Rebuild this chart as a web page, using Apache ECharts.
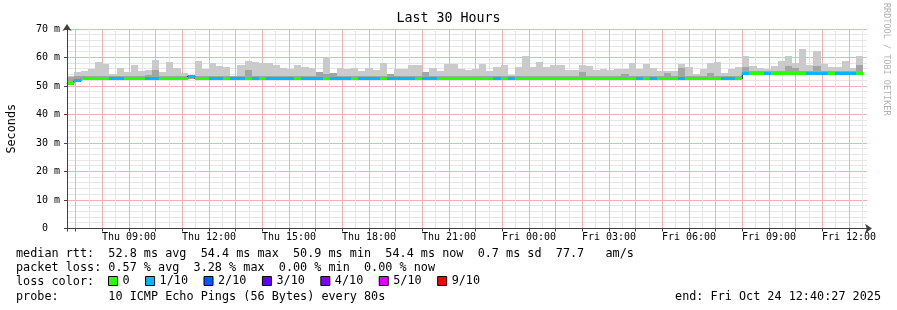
<!DOCTYPE html>
<html><head><meta charset="utf-8">
<script src="https://cdn.jsdelivr.net/npm/echarts@6/dist/echarts.min.js"></script>
<style>html,body{margin:0;padding:0;background:#fff}#c{width:897px;height:310px}</style>
</head><body><div id="c"></div>
<script>
// ---- data ----
const dayNames = ['Thu', 'Fri'];              // day 0 = Thu Oct 23, day 1 = Fri Oct 24
const viewStartHour = 6 + 40 / 60 + 27 / 3600; // Thu 06:40:27
const viewSpanHours = 30;
const firstBarHour = 6 + 40 / 60;              // first bar starts Thu 06:40
const barStepHours = 16 / 60;                  // 16 minute steps

const lossLabels = ['0', '1/10', '2/10', '3/10', '4/10', '5/10', '9/10'];
const lossCounts = [0, 1, 2, 3, 4, 5, 9];
const lossColors = ['#26ff00', '#00b8ff', '#0059ff', '#5e00ff', '#7e00ff', '#dd00ff', '#ff0000'];

// median rtt per bar (ms)
const medianMs = [
  50.9, 51.8, 52.6, 52.6, 52.6, 52.6, 52.6, 52.6, 52.6, 52.6,
  52.6, 52.6, 52.6, 52.6, 52.6, 52.6, 52.6, 53.5, 52.6, 52.6,
  52.6, 52.6, 52.6, 52.6, 52.6, 52.6, 52.6, 52.6, 52.6, 52.6,
  52.6, 52.6, 52.6, 52.6, 52.6, 52.6, 52.6, 52.6, 52.6, 52.6,
  52.6, 52.6, 52.6, 52.6, 52.6, 52.6, 52.6, 52.6, 52.6, 52.6,
  52.6, 52.6, 52.6, 52.6, 52.6, 52.6, 52.6, 52.6, 52.6, 52.6,
  52.6, 52.6, 52.6, 52.6, 52.6, 52.6, 52.6, 52.6, 52.6, 52.6,
  52.6, 52.6, 52.6, 52.6, 52.6, 52.6, 52.6, 52.6, 52.6, 52.6,
  52.6, 52.6, 52.6, 52.6, 52.6, 52.6, 52.6, 52.6, 52.6, 52.6,
  52.6, 52.6, 52.6, 52.6, 52.6, 54.4, 54.4, 54.4, 54.4, 54.4,
  54.4, 54.4, 54.4, 54.4, 54.4, 54.4, 54.4, 54.4, 54.4, 54.4,
  54.4, 54.4
];
// lost pings out of 10 per bar
const lostPings = [
  0, 1, 0, 0, 0, 0, 1, 1, 0, 0,
  0, 1, 1, 0, 0, 0, 0, 1, 0, 0,
  1, 1, 0, 1, 1, 0, 1, 0, 1, 1,
  1, 1, 0, 1, 1, 1, 0, 1, 1, 1,
  0, 1, 1, 1, 0, 1, 1, 1, 1, 0,
  1, 1, 0, 0, 0, 0, 0, 0, 0, 0,
  1, 0, 1, 0, 0, 0, 0, 0, 0, 0,
  0, 0, 0, 0, 0, 0, 0, 0, 0, 0,
  1, 0, 1, 0, 0, 0, 1, 0, 0, 0,
  0, 0, 1, 1, 0, 1, 0, 0, 1, 0,
  0, 0, 0, 0, 1, 1, 1, 0, 1, 1,
  1, 0
];
// smoke: lowest ping, highest ping, inner (2nd highest) ping
const smokeMin = [
  51.2, 51.5, 52.2, 52.2, 52.2, 52.2, 52.2, 52.2, 52.2, 52.2,
  52.2, 52.2, 52.2, 52.2, 52.2, 52.2, 52.2, 52.6, 52.2, 52.2,
  52.2, 52.2, 52.2, 52.2, 52.2, 52.2, 52.2, 52.2, 52.2, 52.2,
  52.2, 52.2, 52.2, 52.2, 52.2, 52.2, 52.2, 52.2, 52.2, 52.2,
  52.2, 52.2, 52.2, 52.2, 52.2, 52.2, 52.2, 52.2, 52.2, 52.2,
  52.2, 52.2, 52.2, 52.2, 52.2, 52.2, 52.2, 52.2, 52.2, 52.2,
  52.2, 52.2, 52.2, 52.2, 52.2, 52.2, 52.2, 52.2, 52.2, 52.2,
  52.2, 52.2, 52.2, 52.2, 52.2, 52.2, 52.2, 52.2, 52.2, 52.2,
  52.2, 52.2, 52.2, 52.2, 52.2, 52.2, 52.2, 52.2, 52.2, 52.2,
  52.2, 52.2, 52.2, 52.2, 52.2, 54.0, 54.0, 54.0, 54.0, 54.0,
  54.0, 54.0, 54.0, 54.0, 54.0, 54.0, 54.0, 54.0, 54.0, 54.0,
  54.0, 54.0
];
const smokeMax = [
  53.6, 54.8, 55.1, 55.9, 58.3, 57.7, 54.1, 56.2, 54.8, 57.3,
  55.1, 55.5, 59.0, 54.8, 58.3, 56.2, 54.6, 54.0, 58.8, 56.0,
  58.0, 57.1, 56.7, 53.6, 57.5, 58.9, 58.3, 58.0, 57.9, 57.2,
  56.2, 55.8, 57.2, 56.7, 56.2, 55.0, 60.0, 54.7, 56.4, 56.1,
  56.2, 55.1, 56.2, 55.5, 58.1, 54.3, 56.1, 56.1, 57.2, 57.2,
  54.8, 56.3, 55.1, 57.6, 57.6, 55.9, 55.5, 55.9, 57.6, 55.1,
  56.6, 57.2, 53.9, 56.5, 60.7, 56.5, 58.3, 56.5, 57.3, 57.5,
  55.6, 55.7, 57.3, 56.9, 55.6, 56.1, 55.5, 56.1, 56.1, 57.9,
  55.8, 57.7, 56.4, 55.4, 55.2, 55.4, 57.7, 56.6, 54.3, 56.0,
  57.9, 58.3, 54.6, 56.0, 56.5, 60.4, 57.0, 56.4, 56.0, 57.0,
  58.6, 60.4, 58.0, 62.9, 57.3, 62.2, 57.6, 56.6, 56.6, 58.6,
  56.4, 60.4
];
const smokeInner = [
  53.0, 53.5, 53.5, 53.5, 53.5, 53.5, 53.5, 53.5, 53.5, 53.5,
  53.5, 54.0, 55.5, 53.5, 53.5, 53.5, 53.5, 53.9, 53.5, 53.5,
  53.5, 53.5, 53.5, 53.5, 53.5, 55.5, 53.5, 53.5, 53.5, 53.5,
  53.5, 53.5, 53.5, 53.5, 53.5, 55.0, 54.2, 54.7, 53.5, 53.5,
  53.5, 53.5, 53.5, 53.5, 53.5, 54.3, 53.5, 53.5, 53.5, 53.5,
  54.8, 53.5, 53.5, 53.5, 53.5, 53.5, 53.5, 53.5, 53.5, 53.5,
  53.5, 53.5, 53.5, 53.5, 53.5, 53.5, 53.5, 53.5, 53.5, 53.5,
  53.5, 53.5, 54.8, 53.5, 53.5, 53.5, 53.5, 53.5, 54.2, 53.5,
  53.5, 53.5, 53.5, 53.5, 54.7, 53.5, 56.4, 53.5, 53.5, 53.5,
  54.7, 53.5, 53.5, 53.5, 53.5, 56.6, 55.2, 55.2, 55.2, 55.2,
  55.2, 57.0, 56.2, 55.2, 55.2, 57.0, 55.2, 55.2, 55.2, 55.2,
  55.2, 57.5
];

const titleText = 'Last 30 Hours';
const yName = 'Seconds';
const statLines = [
  'median rtt:  52.8 ms avg  54.4 ms max  50.9 ms min  54.4 ms now  0.7 ms sd  77.7   am/s',
  'packet loss: 0.57 % avg  3.28 % max  0.00 % min  0.00 % now',
  'loss color:',
  'probe:       10 ICMP Echo Pings (56 Bytes) every 80s'
];
const endText = 'end: Fri Oct 24 12:40:27 2025';
const creditText = 'RRDTOOL / TOBI OETIKER';

// ---- build ----
const MONO = '"DejaVu Sans Mono", monospace';
const MAJOR = '#f4b0b0';
const MINOR = '#e6e6e6';
const viewEndHour = viewStartHour + viewSpanHours;
const bars = medianMs.map((m, i) => {
  const t0 = firstBarHour + i * barStepHours;
  return { t0: t0, t1: t0 + barStepHours, m: m, loss: lostPings[i],
           lo: smokeMin[i], hi: smokeMax[i], inner: smokeInner[i] };
});

// grid positions: every half hour (major on the hour), every 2 ms (major every 10 ms)
const vGrid = [];
for (let h = Math.ceil(viewStartHour * 2) / 2; h < viewEndHour; h += 0.5) vGrid.push([h, h % 1 === 0 ? 1 : 0]);
const hGrid = [];
for (let v = 2; v <= 70; v += 2) hGrid.push([v, v % 10 === 0 ? 1 : 0]);

function clipBox(params) {
  const cs = params.coordSys;
  return { x: cs.x, y: cs.y, width: cs.width, height: cs.height };
}
function snapRect(api, params, t0, t1, a, b) {
  const p0 = api.coord([t0, b]);
  const p1 = api.coord([t1, a]);
  const x0 = Math.round(p0[0]), x1 = Math.round(p1[0]);
  const y0 = Math.round(p0[1]), y1 = Math.round(p1[1]);
  return echarts.graphic.clipRectByRect({ x: x0, y: y0, width: x1 - x0, height: y1 - y0 }, clipBox(params));
}
function smokeRender(params, api) {
  const t0 = api.value(0), t1 = api.value(1);
  const lo = api.value(2), hi = api.value(3), inner = api.value(4);
  const kids = [];
  const r1 = snapRect(api, params, t0, t1, lo, hi);
  if (r1) kids.push({ type: 'rect', shape: r1, style: { fill: '#cacaca' } });
  const r2 = snapRect(api, params, t0, t1, lo, inner);
  if (r2) kids.push({ type: 'rect', shape: r2, style: { fill: '#a4a4a4' } });
  return { type: 'group', children: kids };
}
function bandRender(color) {
  return function (params, api) {
    const t0 = api.value(0), t1 = api.value(1), m = api.value(2);
    const p0 = api.coord([t0, m]), p1 = api.coord([t1, m]);
    const x0 = Math.round(p0[0]), x1 = Math.round(p1[0]);
    const yc = Math.round(p0[1] - 1.5);
    const r = echarts.graphic.clipRectByRect({ x: x0, y: yc, width: x1 - x0, height: 3 }, clipBox(params));
    if (!r) return null;
    return { type: 'rect', shape: r, style: { fill: color } };
  };
}
function gridRect(params, api, vertical, value, major) {
  const cs = params.coordSys;
  if (vertical) {
    const x = Math.floor(api.coord([value, 0])[0]);
    return { type: 'rect', silent: true, shape: { x: x, y: cs.y, width: 1, height: cs.height },
             style: { fill: major ? MAJOR : MINOR } };
  }
  const y = Math.floor(api.coord([viewStartHour, value])[1]);
  return { type: 'rect', silent: true, shape: { x: cs.x, y: y, width: cs.width, height: 1 },
           style: { fill: major ? MAJOR : MINOR } };
}
function vGridRender(params, api) { return gridRect(params, api, true, api.value(0), api.value(1) === 1); }
function hGridRender(params, api) { return gridRect(params, api, false, api.value(0), api.value(1) === 1); }

const series = [];
series.push({ type: 'custom', name: 'hgrid', z: 1, silent: true, renderItem: hGridRender,
              encode: { y: 0 }, data: hGrid.filter(g => !g[1]).concat(hGrid.filter(g => g[1])) });
series.push({ type: 'custom', name: 'vgrid', z: 2, silent: true, renderItem: vGridRender,
              encode: { x: 0 }, data: vGrid.filter(g => !g[1]).concat(vGrid.filter(g => g[1])) });
series.push({
  type: 'custom', name: 'smoke', z: 5, renderItem: smokeRender,
  encode: { x: [0, 1], y: [2, 3, 4] },
  data: bars.map(b => [b.t0, b.t1, b.lo, b.hi, b.inner])
});
const stepData = bars.map(b => [b.t0, b.m]);
stepData.push([bars[bars.length - 1].t1, bars[bars.length - 1].m]);
series.push({
  type: 'line', name: 'medianline', z: 6, step: 'end', showSymbol: false, symbol: 'none',
  lineStyle: { color: '#202020', width: 1 }, data: stepData, silent: true
});
lossLabels.forEach((lab, k) => {
  series.push({
    type: 'custom', name: lab, z: 7, renderItem: bandRender(lossColors[k]),
    itemStyle: { color: lossColors[k] },
    encode: { x: [0, 1], y: [2] },
    data: bars.filter(b => b.loss === lossCounts[k]).map(b => [b.t0, b.t1, b.m])
  });
});

function pad2(n) { return (n < 10 ? '0' : '') + n; }
function timeLabel(v) {
  const day = Math.floor(v / 24 + 1e-9);
  const h = Math.round(v - day * 24);
  return dayNames[day] + ' ' + pad2(h) + ':00';
}

const chart = echarts.init(document.getElementById('c'), null, { renderer: 'canvas' });
chart.setOption({
  animation: false,
  backgroundColor: '#ffffff',
  title: {
    text: titleText, left: 'center', top: 12, padding: 0,
    textStyle: { fontFamily: MONO, fontSize: 13.3, fontWeight: 'normal', color: '#000' }
  },
  grid: { left: 67, right: 30, top: 29, bottom: 81.5, containLabel: false, outerBoundsMode: 'none' },
  legend: {
    data: lossLabels, left: 108, top: 275, padding: 0, itemWidth: 9, itemHeight: 9, itemGap: 15.5,
    icon: 'rect', selectedMode: false,
    itemStyle: { borderColor: '#000', borderWidth: 1 },
    textStyle: { fontFamily: MONO, fontSize: 11.8, color: '#000', padding: 0 }
  },
  xAxis: [
    {
      type: 'value', position: 'bottom', min: viewStartHour, max: viewEndHour, z: 10,
      minInterval: 3, maxInterval: 3,
      axisLine: { show: true, onZero: false, symbol: ['none', 'arrow'], symbolSize: [7, 7], symbolOffset: [0, 5],
                  lineStyle: { color: '#404040', width: 1 } },
      axisTick: { show: false },
      splitLine: { show: false }, minorSplitLine: { show: false },
      axisLabel: { show: true, margin: 4, showMinLabel: false, showMaxLabel: false,
                   fontFamily: MONO, fontSize: 10, color: '#000', formatter: timeLabel }
    },
    {
      type: 'value', position: 'bottom', min: viewStartHour, max: viewEndHour, z: 10,
      minInterval: 1, maxInterval: 1,
      axisLine: { show: false, onZero: false },
      axisTick: { show: true, length: 3, lineStyle: { color: '#444' } },
      axisLabel: { show: false },
      splitLine: { show: false }, minorSplitLine: { show: false }
    }
  ],
  yAxis: {
    type: 'value', min: 0, max: 70, interval: 10, position: 'left', z: 10,
    name: yName, nameLocation: 'middle', nameGap: 49, nameMoveOverlap: false,
    nameTextStyle: { fontFamily: MONO, fontSize: 11.8, color: '#000' },
    axisLine: { show: true, onZero: false, symbol: ['none', 'arrow'], symbolSize: [7, 7], symbolOffset: [0, 5],
                lineStyle: { color: '#404040', width: 1 } },
    axisTick: { show: true, length: 3, lineStyle: { color: '#444' } },
    axisLabel: { margin: 7, fontFamily: MONO, fontSize: 10, color: '#000',
                 formatter: v => v === 0 ? '0  ' : v + ' m' },
    splitLine: { show: false }, minorSplitLine: { show: false }
  },
  graphic: [
    { type: 'text', x: 16, y: 254.3, style: { text: statLines[0], font: '11.8px ' + MONO, fill: '#000', align: 'left', verticalAlign: 'middle' } },
    { type: 'text', x: 16, y: 268.3, style: { text: statLines[1], font: '11.8px ' + MONO, fill: '#000', align: 'left', verticalAlign: 'middle' } },
    { type: 'text', x: 16, y: 282.2, style: { text: statLines[2], font: '11.8px ' + MONO, fill: '#000', align: 'left', verticalAlign: 'middle' } },
    { type: 'text', x: 16, y: 296.7, style: { text: statLines[3], font: '11.8px ' + MONO, fill: '#000', align: 'left', verticalAlign: 'middle' } },
    { type: 'text', x: 881, y: 296.7, style: { text: endText, font: '11.8px ' + MONO, fill: '#000', align: 'right', verticalAlign: 'middle' } },
    { type: 'text', x: 886, y: 3, rotation: -Math.PI / 2, style: { text: creditText, font: '8.5px ' + MONO, fill: '#b0b0b0', align: 'left', verticalAlign: 'middle' } }
  ],
  series: series
});
</script>
</body></html>
